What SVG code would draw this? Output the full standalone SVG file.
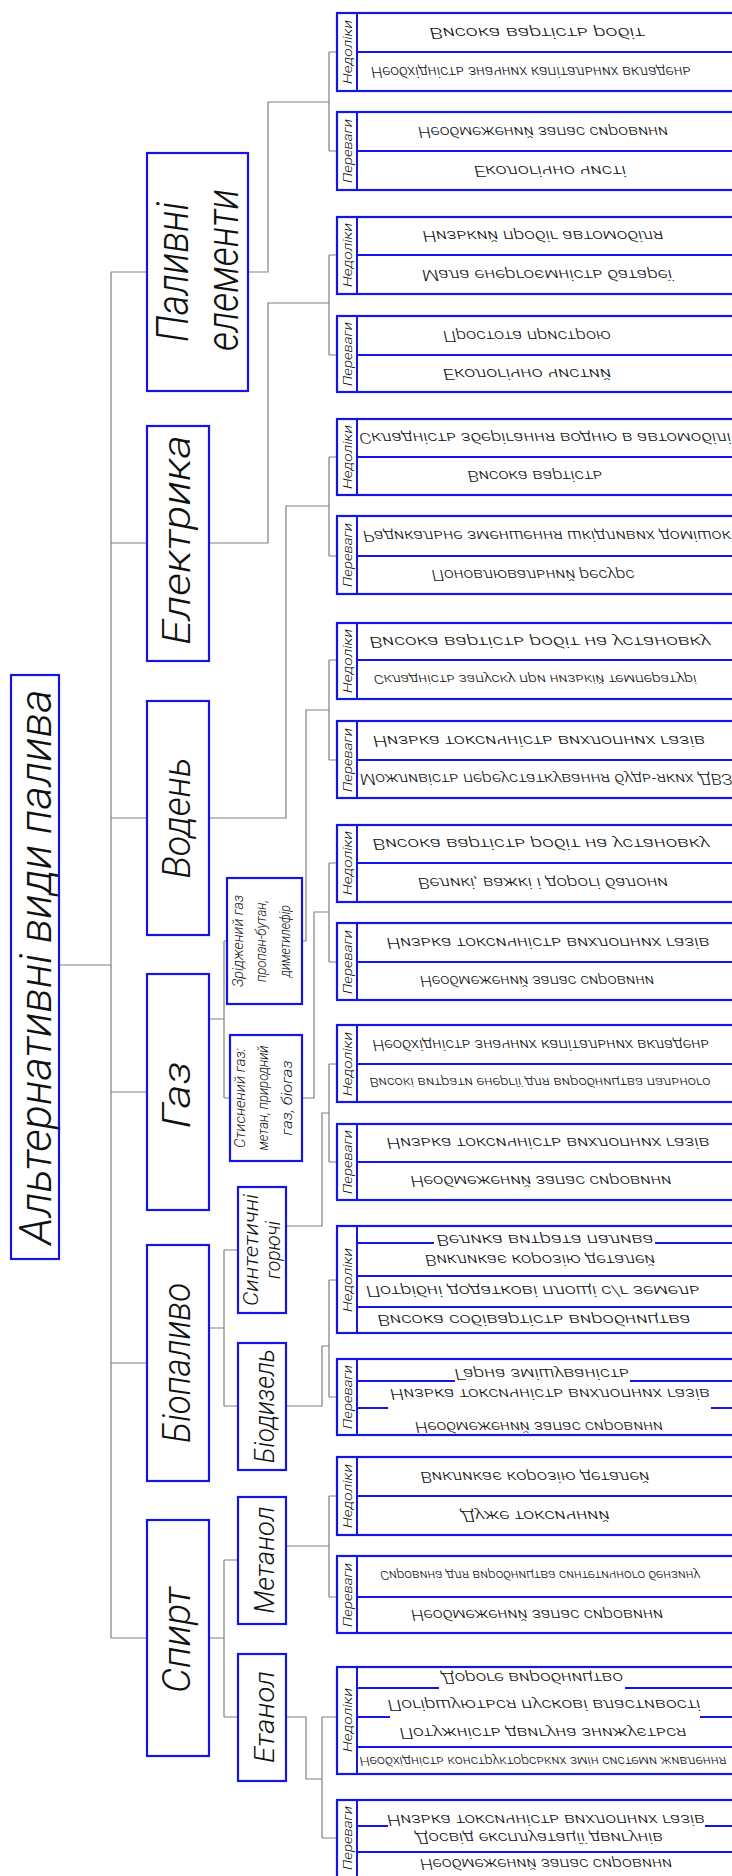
<svg xmlns="http://www.w3.org/2000/svg" width="732" height="1876" viewBox="0 0 732 1876">
<style>
.bx{fill:none;stroke:#1414e6;stroke-width:2.2}
.ln{fill:none;stroke:#1414e6;stroke-width:2}
.cn{fill:none;stroke:#808080;stroke-width:1.2}
text{font-family:Roboto,"Liberation Sans","DejaVu Sans",sans-serif;font-weight:300;font-style:italic;fill:#111;text-anchor:middle}
.lf{font-size:15px}
.sm{font-size:13px}
.lb{font-size:13px}
.l1{font-size:38px}
.l2{font-size:28px}
.l3{font-size:14px}
</style>
<rect width="732" height="1876" fill="#fff"/>
<g id="connectors" class="cn">
<path d="M59,965H111M111,272V1638M111,272H147M111,543H147M111,818H147M111,1092H147M111,1363H147M111,1638H147"/>
<path d="M248,272H268V102H329M329,52V151M329,52H337M329,151H337"/>
<path d="M209,543H268V303H329M329,255V355M329,255H337M329,355H337"/>
<path d="M209,818H286V506H329M329,457V556M329,457H337M329,556H337"/>
<path d="M209,1019H224M224,941V1098M224,941H227M224,1098H230"/>
<path d="M209,1328H224M224,1250V1406M224,1250H238M224,1406H238"/>
<path d="M209,1638H224M224,1560V1717M224,1560H238M224,1717H238"/>
<path d="M302,941H306V710H329M329,660V760M329,660H337M329,760H337"/>
<path d="M302,1098H314V912H329M329,863V962M329,863H337M329,962H337"/>
<path d="M286,1226H322V1113H329M329,1064V1162M329,1064H337M329,1162H337"/>
<path d="M286,1406H322V1346H329M329,1280V1397M329,1280H337M329,1397H337"/>
<path d="M286,1546H329M329,1496V1597M329,1496H337M329,1597H337"/>
<path d="M286,1717H306V1779H322M322,1717V1838M322,1717H337M322,1838H337"/>
</g>
<g id="root"><rect class="bx" x="11" y="675" width="48" height="584"/><text transform="translate(51,967) rotate(-90)" font-size="44" textLength="555" lengthAdjust="spacingAndGlyphs">Альтернативні види палива</text></g>
<g id="n-palivni"><rect class="bx" x="147" y="153" width="101" height="238"/><text transform="translate(188,272) rotate(-90)" font-size="44" textLength="140" lengthAdjust="spacingAndGlyphs">Паливні</text><text transform="translate(238,270) rotate(-90)" font-size="44" textLength="162" lengthAdjust="spacingAndGlyphs">елементи</text></g>
<g id="n-elektryka"><rect class="bx" x="147" y="426" width="62" height="235"/><text class="l1" transform="translate(190,540) rotate(-90)" textLength="210" lengthAdjust="spacingAndGlyphs">Електрика</text></g>
<g id="n-voden"><rect class="bx" x="147" y="701" width="62" height="234"/><text class="l1" transform="translate(190,818) rotate(-90)" textLength="121" lengthAdjust="spacingAndGlyphs">Водень</text></g>
<g id="n-gaz"><rect class="bx" x="147" y="974" width="62" height="236"/><text class="l1" transform="translate(190,1095) rotate(-90)" textLength="67" lengthAdjust="spacingAndGlyphs">Газ</text></g>
<g id="n-biopalyvo"><rect class="bx" x="147" y="1245" width="62" height="236"/><text class="l1" transform="translate(190,1363) rotate(-90)" textLength="160" lengthAdjust="spacingAndGlyphs">Біопаливо</text></g>
<g id="n-spyrt"><rect class="bx" x="147" y="1520" width="62" height="236"/><text class="l1" transform="translate(190,1640) rotate(-90)" textLength="106" lengthAdjust="spacingAndGlyphs">Спирт</text></g>
<g id="n-zridzh"><rect class="bx" x="227" y="878" width="75" height="126"/><text class="l3" transform="translate(243,941) rotate(-90)" textLength="92" lengthAdjust="spacingAndGlyphs">Зріджений газ</text><text class="l3" transform="translate(266,941) rotate(-90)" textLength="82" lengthAdjust="spacingAndGlyphs">пропан-бутан,</text><text class="l3" transform="translate(290,941) rotate(-90)" textLength="72" lengthAdjust="spacingAndGlyphs">диметилефір</text></g>
<g id="n-stysn"><rect class="bx" x="230" y="1035" width="72" height="126"/><text class="l3" transform="translate(245,1098) rotate(-90)" textLength="100" lengthAdjust="spacingAndGlyphs">Стиснений газ:</text><text class="l3" transform="translate(268,1098) rotate(-90)" textLength="105" lengthAdjust="spacingAndGlyphs">метан, природний</text><text class="l3" transform="translate(292,1098) rotate(-90)" textLength="75" lengthAdjust="spacingAndGlyphs">газ, біогаз</text></g>
<g id="n-syntet"><rect class="bx" x="238" y="1187" width="48" height="126"/><text transform="translate(258,1250) rotate(-90)" font-size="20" textLength="112" lengthAdjust="spacingAndGlyphs">Синтетичні</text><text transform="translate(280,1250) rotate(-90)" font-size="20" textLength="58" lengthAdjust="spacingAndGlyphs">горючі</text></g>
<g id="n-biodyz"><rect class="bx" x="238" y="1343" width="48" height="127"/><text class="l2" transform="translate(274,1406) rotate(-90)" textLength="114" lengthAdjust="spacingAndGlyphs">Біодизель</text></g>
<g id="n-metanol"><rect class="bx" x="238" y="1497" width="48" height="127"/><text class="l2" transform="translate(274,1560) rotate(-90)" textLength="107" lengthAdjust="spacingAndGlyphs">Метанол</text></g>
<g id="n-etanol"><rect class="bx" x="238" y="1654" width="48" height="127"/><text class="l2" transform="translate(274,1717) rotate(-90)" textLength="92" lengthAdjust="spacingAndGlyphs">Етанол</text></g>

<g id="g1"><rect class="bx" x="337" y="13" width="420" height="78"/><path class="ln" d="M357,13V91M357,52H757"/><text class="lb" transform="translate(352,52) rotate(-90)" textLength="64" lengthAdjust="spacingAndGlyphs">Недоліки</text>
<text class="lf" transform="translate(537,32.5) scale(1,-1)" y="5" textLength="215" lengthAdjust="spacingAndGlyphs">Висока вартість робіт</text>
<text class="lf" transform="translate(531,71.5) scale(1,-1)" y="5" textLength="320" lengthAdjust="spacingAndGlyphs">Необхідність значних капітальних вкладень</text></g>
<g id="g2"><rect class="bx" x="337" y="112" width="420" height="78"/><path class="ln" d="M357,112V190M357,151H757"/><text class="lb" transform="translate(352,151) rotate(-90)" textLength="64" lengthAdjust="spacingAndGlyphs">Переваги</text>
<text class="lf" transform="translate(543,131.5) scale(1,-1)" y="5" textLength="250" lengthAdjust="spacingAndGlyphs">Необмежений запас сировини</text>
<text class="lf" transform="translate(550,170.5) scale(1,-1)" y="5" textLength="152" lengthAdjust="spacingAndGlyphs">Екологічно чисті</text></g>
<g id="g3"><rect class="bx" x="337" y="217" width="420" height="77"/><path class="ln" d="M357,217V294M357,255H757"/><text class="lb" transform="translate(352,255) rotate(-90)" textLength="64" lengthAdjust="spacingAndGlyphs">Недоліки</text>
<text class="lf" transform="translate(543,236) scale(1,-1)" y="5" textLength="241" lengthAdjust="spacingAndGlyphs">Низький пробіг автомобіля</text>
<text class="lf" transform="translate(547,274.5) scale(1,-1)" y="5" textLength="250" lengthAdjust="spacingAndGlyphs">Мала енергоємність батареї</text></g>
<g id="g4"><rect class="bx" x="337" y="316" width="420" height="76"/><path class="ln" d="M357,316V392M357,355H757"/><text class="lb" transform="translate(352,354) rotate(-90)" textLength="64" lengthAdjust="spacingAndGlyphs">Переваги</text>
<text class="lf" transform="translate(527,335.5) scale(1,-1)" y="5" textLength="168" lengthAdjust="spacingAndGlyphs">Простота пристрою</text>
<text class="lf" transform="translate(527,373.5) scale(1,-1)" y="5" textLength="168" lengthAdjust="spacingAndGlyphs">Екологічно чистий</text></g>
<g id="g5"><rect class="bx" x="337" y="419" width="420" height="76"/><path class="ln" d="M357,419V495M357,457H757"/><text class="lb" transform="translate(352,457) rotate(-90)" textLength="64" lengthAdjust="spacingAndGlyphs">Недоліки</text>
<text class="lf" transform="translate(545,438) scale(1,-1)" y="5" textLength="372" lengthAdjust="spacingAndGlyphs">Складність зберігання водню в автомобілі</text>
<text class="lf" transform="translate(535,476) scale(1,-1)" y="5" textLength="135" lengthAdjust="spacingAndGlyphs">Висока вартість</text></g>
<g id="g6"><rect class="bx" x="337" y="516" width="420" height="78"/><path class="ln" d="M357,516V594M357,556H757"/><text class="lb" transform="translate(352,555) rotate(-90)" textLength="64" lengthAdjust="spacingAndGlyphs">Переваги</text>
<text class="lf" transform="translate(547,536) scale(1,-1)" y="5" textLength="368" lengthAdjust="spacingAndGlyphs">Радикальне зменшення шкідливих домішок</text>
<text class="lf" transform="translate(533,575) scale(1,-1)" y="5" textLength="203" lengthAdjust="spacingAndGlyphs">Поновлювальний ресурс</text></g>
<g id="g7"><rect class="bx" x="337" y="623" width="420" height="76"/><path class="ln" d="M357,623V699M357,660H757"/><text class="lb" transform="translate(352,661) rotate(-90)" textLength="64" lengthAdjust="spacingAndGlyphs">Недоліки</text>
<text class="lf" transform="translate(540,641.5) scale(1,-1)" y="5" textLength="341" lengthAdjust="spacingAndGlyphs">Висока вартість робіт на установку</text>
<text class="sm" transform="translate(535,679.5) scale(1,-1)" y="5" textLength="323" lengthAdjust="spacingAndGlyphs">Складність запуску при низькій температурі</text></g>
<g id="g8"><rect class="bx" x="337" y="721" width="420" height="77"/><path class="ln" d="M357,721V798M357,760H757"/><text class="lb" transform="translate(352,760) rotate(-90)" textLength="64" lengthAdjust="spacingAndGlyphs">Переваги</text>
<text class="lf" transform="translate(539,740.5) scale(1,-1)" y="5" textLength="332" lengthAdjust="spacingAndGlyphs">Низька токсичність вихлопних газів</text>
<text class="lf" transform="translate(546,779) scale(1,-1)" y="5" textLength="372" lengthAdjust="spacingAndGlyphs">Можливість переустаткування будь-яких ДВЗ</text></g>
<g id="g9"><rect class="bx" x="337" y="825" width="420" height="77"/><path class="ln" d="M357,825V902M357,863H757"/><text class="lb" transform="translate(352,863) rotate(-90)" textLength="64" lengthAdjust="spacingAndGlyphs">Недоліки</text>
<text class="lf" transform="translate(541,844) scale(1,-1)" y="5" textLength="337" lengthAdjust="spacingAndGlyphs">Висока вартість робіт на установку</text>
<text class="lf" transform="translate(543,882.5) scale(1,-1)" y="5" textLength="250" lengthAdjust="spacingAndGlyphs">Великі, важкі і дорогі балони</text></g>
<g id="g10"><rect class="bx" x="337" y="923" width="420" height="77"/><path class="ln" d="M357,923V1000M357,962H757"/><text class="lb" transform="translate(352,962) rotate(-90)" textLength="64" lengthAdjust="spacingAndGlyphs">Переваги</text>
<text class="lf" transform="translate(548,942.5) scale(1,-1)" y="5" textLength="323" lengthAdjust="spacingAndGlyphs">Низька токсичність вихлопних газів</text>
<text class="lf" transform="translate(537,981) scale(1,-1)" y="5" textLength="234" lengthAdjust="spacingAndGlyphs">Необмежений запас сировини</text></g>
<g id="g11"><rect class="bx" x="337" y="1025" width="420" height="77"/><path class="ln" d="M357,1025V1102M357,1064H757"/><text class="lb" transform="translate(352,1064) rotate(-90)" textLength="64" lengthAdjust="spacingAndGlyphs">Недоліки</text>
<text class="lf" transform="translate(541,1044.5) scale(1,-1)" y="5" textLength="337" lengthAdjust="spacingAndGlyphs">Необхідність значних капітальних вкладень</text>
<text class="sm" transform="translate(540,1083) scale(1,-1)" y="5" textLength="341" lengthAdjust="spacingAndGlyphs">Високі витрати енергії для виробництва пального</text></g>
<g id="g12"><rect class="bx" x="337" y="1124" width="420" height="76"/><path class="ln" d="M357,1124V1200M357,1162H757"/><text class="lb" transform="translate(352,1162) rotate(-90)" textLength="64" lengthAdjust="spacingAndGlyphs">Переваги</text>
<text class="lf" transform="translate(548,1143) scale(1,-1)" y="5" textLength="323" lengthAdjust="spacingAndGlyphs">Низька токсичність вихлопних газів</text>
<text class="lf" transform="translate(541,1181) scale(1,-1)" y="5" textLength="261" lengthAdjust="spacingAndGlyphs">Необмежений запас сировини</text></g>
<g id="g13"><rect class="bx" x="337" y="1226" width="420" height="107"/><path class="ln" d="M357,1226V1333M357,1243H434M655,1243H757M357,1276H757M357,1307H757"/><text class="lb" transform="translate(352,1280) rotate(-90)" textLength="64" lengthAdjust="spacingAndGlyphs">Недоліки</text>
<text class="l3" transform="translate(545,1240) scale(1,-1)" y="5" textLength="217" lengthAdjust="spacingAndGlyphs">Велика витрата палива</text>
<text class="l3" transform="translate(540,1260) scale(1,-1)" y="5" textLength="230" lengthAdjust="spacingAndGlyphs">Викликає корозію деталей</text>
<text class="l3" transform="translate(533,1291) scale(1,-1)" y="5" textLength="334" lengthAdjust="spacingAndGlyphs">Потрібні додаткові площі с/г земель</text>
<text class="l3" transform="translate(534,1320) scale(1,-1)" y="5" textLength="313" lengthAdjust="spacingAndGlyphs">Висока собівартість виробництва</text></g>
<g id="g14"><rect class="bx" x="337" y="1359" width="420" height="76"/><path class="ln" d="M357,1359V1435M357,1381H455M630,1381H757M357,1408H388M711,1408H757"/><text class="lb" transform="translate(352,1397) rotate(-90)" textLength="64" lengthAdjust="spacingAndGlyphs">Переваги</text>
<text class="l3" transform="translate(542,1374) scale(1,-1)" y="5" textLength="175" lengthAdjust="spacingAndGlyphs">Гарна змішуваність</text>
<text class="l3" transform="translate(550,1394) scale(1,-1)" y="5" textLength="320" lengthAdjust="spacingAndGlyphs">Низька токсичність вихлопних газів</text>
<text class="l3" transform="translate(539,1427) scale(1,-1)" y="5" textLength="248" lengthAdjust="spacingAndGlyphs">Необмежений запас сировини</text></g>
<g id="g15"><rect class="bx" x="337" y="1457" width="420" height="78"/><path class="ln" d="M357,1457V1535M357,1496H757"/><text class="lb" transform="translate(352,1496) rotate(-90)" textLength="64" lengthAdjust="spacingAndGlyphs">Недоліки</text>
<text class="lf" transform="translate(535,1476.5) scale(1,-1)" y="5" textLength="229" lengthAdjust="spacingAndGlyphs">Викликає корозію деталей</text>
<text class="lf" transform="translate(535,1515.5) scale(1,-1)" y="5" textLength="149" lengthAdjust="spacingAndGlyphs">Дуже токсичний</text></g>
<g id="g16"><rect class="bx" x="337" y="1556" width="420" height="77"/><path class="ln" d="M357,1556V1633M357,1597H757"/><text class="lb" transform="translate(352,1595) rotate(-90)" textLength="64" lengthAdjust="spacingAndGlyphs">Переваги</text>
<text class="sm" transform="translate(540,1576) scale(1,-1)" y="5" textLength="320" lengthAdjust="spacingAndGlyphs">Сировина для виробництва синтетичного бензину</text>
<text class="lf" transform="translate(537,1615) scale(1,-1)" y="5" textLength="252" lengthAdjust="spacingAndGlyphs">Необмежений запас сировини</text></g>
<g id="g17"><rect class="bx" x="337" y="1667" width="420" height="107"/><path class="ln" d="M357,1667V1774M357,1688H439M625,1688H757M357,1717H390M700,1717H757M357,1747H757"/><text class="lb" transform="translate(352,1720) rotate(-90)" textLength="64" lengthAdjust="spacingAndGlyphs">Недоліки</text>
<text class="l3" transform="translate(532,1678) scale(1,-1)" y="5" textLength="182" lengthAdjust="spacingAndGlyphs">Дороге виробництво</text>
<text class="l3" transform="translate(544,1705) scale(1,-1)" y="5" textLength="313" lengthAdjust="spacingAndGlyphs">Погіршуються пускові властивості</text>
<text class="l3" transform="translate(543,1733) scale(1,-1)" y="5" textLength="287" lengthAdjust="spacingAndGlyphs">Потужність двигуна знижується</text>
<text class="sm" transform="translate(543,1762) scale(1,-1)" y="5" textLength="367" lengthAdjust="spacingAndGlyphs">Необхідність конструкторських змін системи живлення</text></g>
<g id="g18"><rect class="bx" x="337" y="1800" width="420" height="80"/><path class="ln" d="M357,1800V1880M357,1826H388M705,1826H757M357,1852H757"/><text class="lb" transform="translate(352,1838) rotate(-90)" textLength="64" lengthAdjust="spacingAndGlyphs">Переваги</text>
<text class="l3" transform="translate(546,1820) scale(1,-1)" y="5" textLength="318" lengthAdjust="spacingAndGlyphs">Низька токсичність вихлопних газів</text>
<text class="l3" transform="translate(539,1838) scale(1,-1)" y="5" textLength="248" lengthAdjust="spacingAndGlyphs">Досвід експлуатації двигунів</text>
<text class="l3" transform="translate(546,1864) scale(1,-1)" y="5" textLength="252" lengthAdjust="spacingAndGlyphs">Необмежений запас сировини</text></g>
</svg>
